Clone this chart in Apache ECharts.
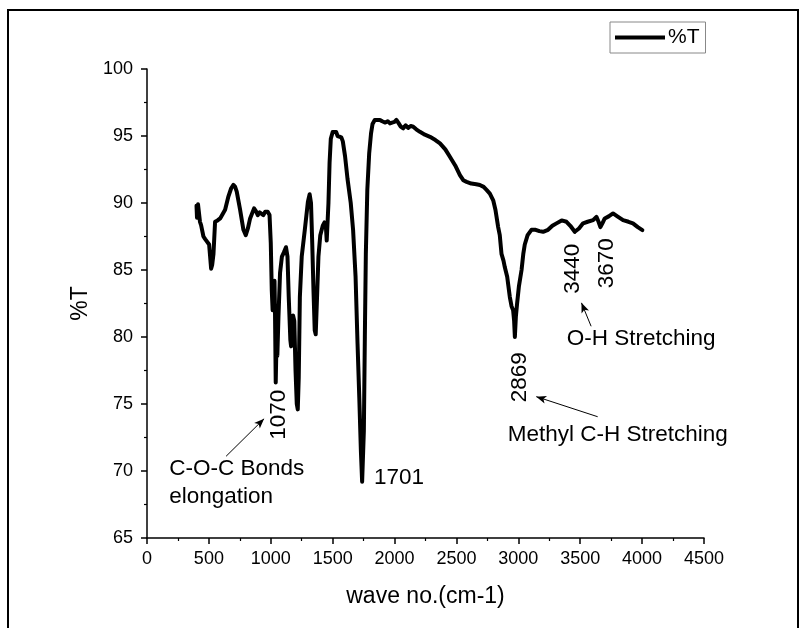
<!DOCTYPE html>
<html>
<head>
<meta charset="utf-8">
<title>FTIR %T</title>
<script src="https://cdn.jsdelivr.net/npm/echarts@6/dist/echarts.min.js"></script>
<style>
	html, body { margin: 0; padding: 0; background: #fff; }
	#chart { width: 805px; height: 628px; }
</style>
</head>
<body>
<div id="chart"></div>
<script>
// wave numbers (cm-1)
var wave = [400, 404, 412, 420, 428, 437, 456, 470, 483, 502, 510, 518, 527, 537, 550, 570, 591, 631, 658, 680,
	698, 712, 725, 752, 779, 798, 815, 833, 865, 880, 895, 910, 922, 940, 955, 975, 990, 1000, 1008, 1015,
	1022, 1030, 1034, 1040, 1046, 1053, 1062, 1075, 1090, 1105, 1123, 1135, 1145, 1158, 1164, 1172, 1180, 1190, 1200, 1210,
	1218, 1226, 1235, 1250, 1275, 1300, 1314, 1325, 1335, 1345, 1355, 1363, 1372, 1385, 1400, 1420, 1434, 1445, 1452, 1459,
	1466, 1475, 1485, 1500, 1515, 1528, 1540, 1555, 1570, 1582, 1600, 1620, 1646, 1665, 1685, 1701, 1715, 1728, 1738, 1745,
	1752, 1760, 1768, 1780, 1795, 1810, 1822, 1840, 1860, 1882, 1900, 1925, 1945, 1963, 1980, 2000, 2015, 2030, 2050, 2070,
	2090, 2110, 2130, 2151, 2175, 2205, 2245, 2286, 2330, 2367, 2410, 2447, 2490, 2528, 2555, 2582, 2620, 2660, 2689, 2720,
	2745, 2770, 2797, 2815, 2837, 2850, 2864, 2880, 2891, 2910, 2931, 2945, 2958, 2966, 2972, 2980, 2990, 3005, 3026, 3040,
	3052, 3075, 3106, 3140, 3170, 3200, 3240, 3275, 3308, 3350, 3389, 3420, 3456, 3490, 3523, 3560, 3604, 3631, 3648, 3663,
	3680, 3698, 3730, 3765, 3800, 3846, 3890, 3926, 3965, 4002]

// transmittance %T
var trans = [89.8, 88.9, 89.9, 89.8, 88.6, 88.35, 87.5, 87.3, 87.2, 86.9, 86.0, 85.1, 85.4, 86.2, 88.6, 88.7, 88.85, 89.5, 90.5, 91.1,
	91.35, 91.2, 90.85, 89.5, 88.0, 87.6, 88.1, 88.85, 89.6, 89.4, 89.1, 89.3, 89.35, 89.1, 89.35, 89.35, 89.1, 87.0, 83.5, 82.0,
	82.6, 84.2, 82.0, 76.6, 79.5, 78.6, 81.5, 84.8, 86.0, 86.3, 86.7, 86.0, 83.0, 79.8, 79.3, 80.5, 81.6, 81.2, 77.5, 75.0,
	74.6, 77.0, 83.0, 86.0, 88.0, 90.1, 90.65, 90.0, 87.0, 83.5, 80.5, 80.2, 82.5, 86.0, 87.6, 88.3, 88.55, 88.3, 87.2, 87.3,
	90.0, 93.0, 94.8, 95.3, 95.2, 95.3, 95.0, 95.1, 94.9, 94.6, 93.5, 91.8, 90.0, 88.0, 84.5, 79.5, 75.5, 71.5, 69.2, 69.2,
	73.0, 80.0, 86.2, 91.0, 93.7, 95.2, 95.9, 96.2, 96.2, 96.2, 96.1, 96.0, 96.1, 95.94, 96.0, 96.05, 96.2, 96.0, 95.7, 95.57,
	95.8, 95.6, 95.75, 95.69, 95.5, 95.31, 95.1, 94.94, 94.7, 94.45, 94.0, 93.45, 92.8, 92.08, 91.7, 91.58, 91.45, 91.4, 91.34, 91.2,
	90.96, 90.7, 90.2, 89.5, 88.2, 87.6, 86.2, 85.7, 85.2, 84.5, 83.0, 82.3, 82.0, 81.2, 80.0, 81.5, 82.5, 83.8, 85.0, 86.2,
	86.9, 87.6, 88.0, 88.0, 87.9, 87.85, 88.0, 88.3, 88.48, 88.7, 88.6, 88.3, 87.85, 88.1, 88.48, 88.6, 88.72, 88.97, 88.6, 88.2,
	88.5, 88.85, 89.0, 89.22, 89.0, 88.72, 88.6, 88.48, 88.2, 87.98]

// annotation texts, placed in data coordinates [wave, %T]
var noteText  = ['1701', '1070', '2869', '3440', '3670', 'O-H Stretching', 'Methyl C-H Stretching', 'C-O-C Bonds', 'elongation']
var noteAt    = [[1834, 69.5], [1067, 74.2], [3012, 77.0], [3440, 85.1], [3714, 85.5], [3391, 79.85], [2915, 72.7], [179, 70.2], [179, 68.1]]
var noteTurn  = [false, true, true, true, true, false, false, false, false]

// arrows: from -> to, data coordinates
var arrows = [
	[[639, 71.1], [946, 73.9]],
	[[3641, 74.05], [3145, 75.55]],
	[[3588, 80.8], [3510, 82.55]]
]

var font = 'Liberation Sans, Arial, sans-serif'

var data = wave.map(function(v, i) {
	return [v, trans[i]]
})

var chart = echarts.init(document.getElementById('chart'))

var option = {}
option.animation = false

option.grid = {
	left: 147,
	right: 101,
	top: 69,
	bottom: 90
}

option.legend = {
	left: 610,
	top: 22,
	padding: [5, 6, 5, 5],
	borderColor: '#888',
	borderWidth: 1,
	borderRadius: 0,
	itemWidth: 50,
	itemHeight: 4,
	itemGap: 4,
	textStyle: { fontFamily: font, fontSize: 21, color: '#000', padding: [0, 0, 0, -2] },
	data: [{ name: '%T', icon: 'rect' }]
}

option.xAxis = {
	type: 'value',
	min: 0,
	max: 4500,
	interval: 500,
	name: 'wave no.(cm-1)',
	nameLocation: 'middle',
	nameGap: 47,
	nameTextStyle: { fontFamily: font, fontSize: 23, color: '#000' },
	axisLine: { lineStyle: { color: '#000', width: 1.5 } },
	axisTick: { length: 6, lineStyle: { color: '#000', width: 1.5 } },
	minorTick: { show: true, splitNumber: 2, length: 3, lineStyle: { color: '#000', width: 1.2 } },
	axisLabel: {
		fontFamily: font, fontSize: 18, color: '#000', margin: 12,
		formatter: function(v) { return String(v) }
	},
	splitLine: { show: false }
}

option.yAxis = {
	type: 'value',
	min: 65,
	max: 100,
	interval: 5,
	name: '%T',
	nameLocation: 'middle',
	nameGap: 50,
	nameTextStyle: { fontFamily: font, fontSize: 23, color: '#000' },
	axisLine: { show: true, lineStyle: { color: '#000', width: 1.5 } },
	axisTick: { show: true, length: 6, lineStyle: { color: '#000', width: 1.5 } },
	minorTick: { show: true, splitNumber: 2, length: 3, lineStyle: { color: '#000', width: 1.2 } },
	axisLabel: { fontFamily: font, fontSize: 18, color: '#000', margin: 14 },
	splitLine: { show: false }
}

option.series = [{
	name: '%T',
	type: 'line',
	symbol: 'none',
	smooth: false,
	lineStyle: { color: '#000', width: 4, join: 'round', cap: 'round' },
	itemStyle: { color: '#000' },
	data: data,
	markLine: {
		silent: true,
		symbol: ['none', 'arrow'],
		symbolSize: [6, 10],
		lineStyle: { color: '#000', width: 1, type: 'solid' },
		label: { show: false },
		data: arrows.map(function(a) {
			return [{ coord: a[0] }, { coord: a[1] }]
		})
	}
}]

chart.setOption(option)

// texts and the outer frame
var graphic = [{
	type: 'rect',
	shape: { x: 8, y: 10, width: 790, height: 640 },
	style: { fill: null, stroke: '#000', lineWidth: 2 },
	silent: true
}]
noteText.forEach(function(t, i) {
	var p = chart.convertToPixel({ gridIndex: 0 }, noteAt[i])
	var turn = noteTurn[i]
	graphic.push({
		type: 'text',
		x: p[0],
		y: p[1],
		rotation: turn ? Math.PI / 2 : 0,
		silent: true,
		style: {
			text: t,
			fontFamily: font,
			fontSize: 22.5,
			fill: '#000',
			align: turn ? 'center' : 'left',
			verticalAlign: 'middle'
		}
	})
})
chart.setOption({ graphic: graphic })
</script>
</body>
</html>
